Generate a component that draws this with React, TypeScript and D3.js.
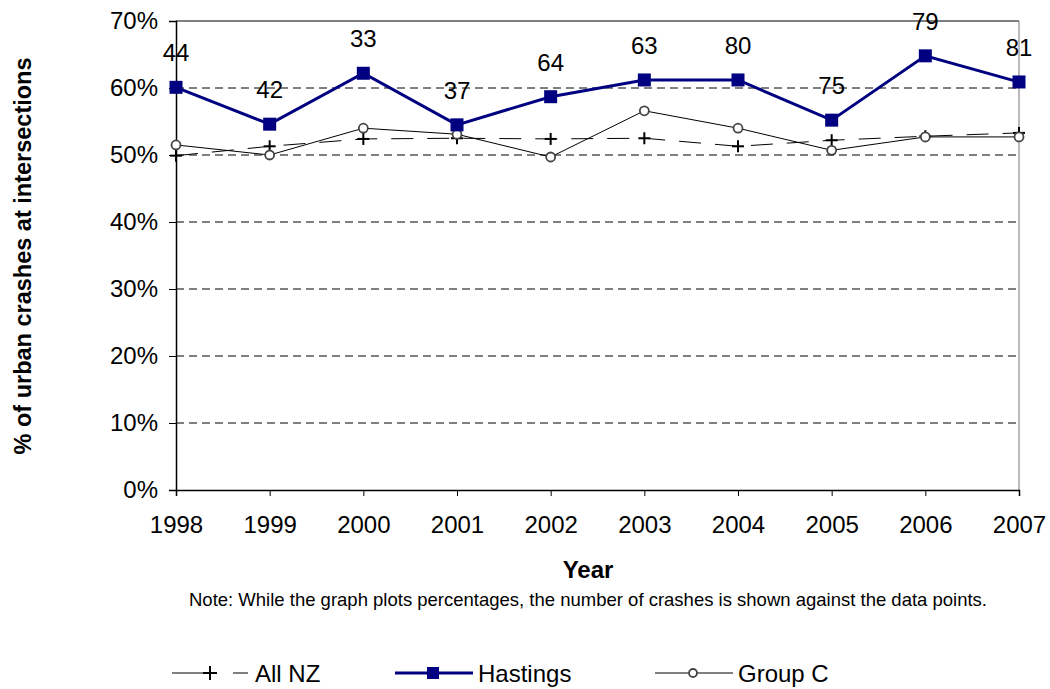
import React, { useEffect, useRef } from "react";
import * as d3 from "d3";

const years = ["1998", "1999", "2000", "2001", "2002", "2003", "2004", "2005", "2006", "2007"];
const allNZ = [49.9, 51.3, 52.4, 52.5, 52.4, 52.5, 51.3, 52.2, 52.8, 53.3];
const hastings = [60.1, 54.6, 62.2, 54.5, 58.7, 61.2, 61.2, 55.2, 64.8, 60.9];
const groupC = [51.5, 50.0, 54.0, 53.1, 49.7, 56.6, 54.0, 50.7, 52.7, 52.7];
const crashCounts = [44, 42, 33, 37, 64, 63, 80, 75, 79, 81];
const yTicks = [0, 10, 20, 30, 40, 50, 60, 70];

const W = 1050;
const H = 689;
const FONT = "Arial, 'Liberation Sans', sans-serif";

const App = () => {
  const ref = useRef<SVGSVGElement>(null);

  useEffect(() => {
    if (!ref.current) return;
    const svg = d3.select(ref.current);
    svg.selectAll("*").remove();

    const left = 176;
    const right = 1019;
    const top = 21;
    const bottom = 490;

    const x = d3.scalePoint<string>().domain(years).range([left, right]);
    const y = d3.scaleLinear().domain([0, 70]).range([bottom, top]);

    // gridlines
    svg
      .append("g")
      .selectAll("line")
      .data(yTicks.filter((t) => t > 0 && t < 70))
      .enter()
      .append("line")
      .attr("x1", left)
      .attr("x2", right)
      .attr("y1", (d) => y(d))
      .attr("y2", (d) => y(d))
      .attr("stroke", "#000")
      .attr("stroke-width", 1)
      .attr("stroke-dasharray", "8,5");

    // frame top + right
    svg.append("line").attr("x1", left).attr("x2", right).attr("y1", top).attr("y2", top).attr("stroke", "#000");
    svg.append("line").attr("x1", right).attr("x2", right).attr("y1", top).attr("y2", bottom).attr("stroke", "#777");

    // axes
    const yAxis = svg
      .append("g")
      .attr("transform", `translate(${left},0)`)
      .call(
        d3
          .axisLeft(y)
          .tickValues(yTicks)
          .tickSize(7)
          .tickFormat((d) => `${d}%`)
      );
    const xAxis = svg
      .append("g")
      .attr("transform", `translate(0,${bottom})`)
      .call(d3.axisBottom(x).tickSize(6).tickPadding(20));

    [yAxis, xAxis].forEach((a) => {
      a.select(".domain").attr("stroke", "#000").attr("stroke-width", 1.5);
      a.selectAll(".tick line").attr("stroke", "#000");
      a.selectAll(".tick text")
        .attr("font-family", FONT)
        .attr("font-size", 24)
        .attr("fill", "#000");
    });
    yAxis.selectAll(".tick text").attr("x", -18);

    const lineGen = d3
      .line<number>()
      .x((_, i) => x(years[i])!)
      .y((d) => y(d));

    // All NZ
    svg
      .append("path")
      .datum(allNZ)
      .attr("fill", "none")
      .attr("stroke", "#000")
      .attr("stroke-width", 1)
      .attr("stroke-dasharray", "22,14")
      .attr("d", lineGen);
    const plus = svg.append("g");
    allNZ.forEach((v, i) => {
      const cx = x(years[i])!;
      const cy = y(v);
      plus.append("line").attr("x1", cx - 6).attr("x2", cx + 6).attr("y1", cy).attr("y2", cy).attr("stroke", "#000").attr("stroke-width", 2);
      plus.append("line").attr("x1", cx).attr("x2", cx).attr("y1", cy - 6).attr("y2", cy + 6).attr("stroke", "#000").attr("stroke-width", 2);
    });

    // Group C
    svg
      .append("path")
      .datum(groupC)
      .attr("fill", "none")
      .attr("stroke", "#000")
      .attr("stroke-width", 1)
      .attr("d", lineGen);
    svg
      .append("g")
      .selectAll("circle")
      .data(groupC)
      .enter()
      .append("circle")
      .attr("cx", (_, i) => x(years[i])!)
      .attr("cy", (d) => y(d))
      .attr("r", 4.5)
      .attr("fill", "#fff")
      .attr("stroke", "#444")
      .attr("stroke-width", 1.8);

    // Hastings
    svg
      .append("path")
      .datum(hastings)
      .attr("fill", "none")
      .attr("stroke", "#000080")
      .attr("stroke-width", 3)
      .attr("d", lineGen);
    svg
      .append("g")
      .selectAll("rect")
      .data(hastings)
      .enter()
      .append("rect")
      .attr("x", (_, i) => x(years[i])! - 6.5)
      .attr("y", (d) => y(d) - 6.5)
      .attr("width", 13)
      .attr("height", 13)
      .attr("fill", "#000080");

    // crash count labels
    svg
      .append("g")
      .selectAll("text")
      .data(hastings)
      .enter()
      .append("text")
      .attr("x", (_, i) => x(years[i])!)
      .attr("y", (d) => y(d) - 26)
      .attr("text-anchor", "middle")
      .attr("font-family", FONT)
      .attr("font-size", 24)
      .text((_, i) => crashCounts[i]);

    // titles
    svg
      .append("text")
      .attr("transform", `translate(31,256) rotate(-90)`)
      .attr("text-anchor", "middle")
      .attr("font-family", FONT)
      .attr("font-size", 23.5)
      .attr("font-weight", "bold")
      .text("% of urban crashes at intersections");
    svg
      .append("text")
      .attr("x", 588)
      .attr("y", 578)
      .attr("text-anchor", "middle")
      .attr("font-family", FONT)
      .attr("font-size", 24)
      .attr("font-weight", "bold")
      .text("Year");
    svg
      .append("text")
      .attr("x", 588)
      .attr("y", 606)
      .attr("text-anchor", "middle")
      .attr("font-family", FONT)
      .attr("font-size", 18.5)
      .text("Note: While the graph plots percentages, the number of crashes is shown against the data points.");

    // legend
    const ly = 673;
    const ty = 682;
    const lg = svg.append("g");
    // All NZ
    lg.append("line").attr("x1", 172).attr("x2", 203).attr("y1", ly).attr("y2", ly).attr("stroke", "#000");
    lg.append("line").attr("x1", 203).attr("x2", 217).attr("y1", ly).attr("y2", ly).attr("stroke", "#000").attr("stroke-width", 2);
    lg.append("line").attr("x1", 210).attr("x2", 210).attr("y1", ly - 7).attr("y2", ly + 7).attr("stroke", "#000").attr("stroke-width", 2);
    lg.append("line").attr("x1", 233).attr("x2", 248).attr("y1", ly).attr("y2", ly).attr("stroke", "#000");
    lg.append("text").attr("x", 255).attr("y", ty).attr("font-family", FONT).attr("font-size", 24).text("All NZ");
    // Hastings
    lg.append("line").attr("x1", 395).attr("x2", 473).attr("y1", ly).attr("y2", ly).attr("stroke", "#000080").attr("stroke-width", 3);
    lg.append("rect").attr("x", 427).attr("y", ly - 6).attr("width", 12).attr("height", 12).attr("fill", "#000080");
    lg.append("text").attr("x", 478).attr("y", ty).attr("font-family", FONT).attr("font-size", 24).text("Hastings");
    // Group C
    lg.append("line").attr("x1", 655).attr("x2", 733).attr("y1", ly).attr("y2", ly).attr("stroke", "#000");
    lg.append("circle").attr("cx", 693).attr("cy", ly).attr("r", 4).attr("fill", "#fff").attr("stroke", "#444").attr("stroke-width", 1.8);
    lg.append("text").attr("x", 738).attr("y", ty).attr("font-family", FONT).attr("font-size", 24).text("Group C");
  }, []);

  return (
    <svg ref={ref} width={W} height={H} style={{ display: "block", position: "absolute", left: 0, top: 0, background: "#fff" }} />
  );
};

export default App;
